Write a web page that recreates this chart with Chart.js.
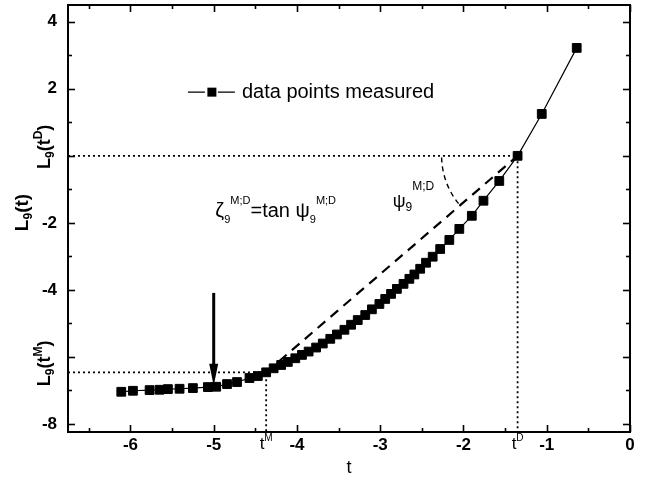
<!DOCTYPE html>
<html>
<head>
<meta charset="utf-8">
<script src="https://cdn.jsdelivr.net/npm/chart.js@4/dist/chart.umd.min.js"></script>
<style>
html,body{margin:0;padding:0;background:#fff;}
#c{display:block;}
</style>
</head>
<body>
<canvas id="c" width="650" height="482"></canvas>
<script>
// ---------------- DATA ----------------
const tValues = [-6.11,-5.97,-5.77,-5.65,-5.55,-5.41,-5.25,-5.07,-4.97,-4.84,-4.72,-4.57,-4.47,-4.37,
  -4.28,-4.19,-4.11,-4.02,-3.94,-3.86,-3.77,-3.69,-3.60,-3.52,-3.43,-3.35,-3.27,-3.18,-3.10,-3.01,
  -2.94,-2.87,-2.80,-2.72,-2.65,-2.59,-2.52,-2.45,-2.37,-2.28,-2.17,-2.05,-1.90,-1.76,-1.57,-1.35,-1.06,-0.64];
const lValues = [-7.04,-7.01,-6.99,-6.98,-6.96,-6.95,-6.93,-6.90,-6.89,-6.81,-6.75,-6.63,-6.57,-6.46,
  -6.34,-6.24,-6.15,-6.04,-5.94,-5.84,-5.72,-5.60,-5.46,-5.33,-5.19,-5.04,-4.90,-4.75,-4.58,-4.42,
  -4.27,-4.12,-3.97,-3.82,-3.67,-3.54,-3.37,-3.19,-3.01,-2.78,-2.51,-2.18,-1.79,-1.34,-0.75,0.00,1.25,3.22];
const tM = -4.37, LtM = -6.46;      // t^M and L9(t^M)
const tD = -1.35, LtD = 0.00;       // t^D and L9(t^D)
const arrowT = -5.0, arrowFromL = -4.09, arrowToL = -6.86;
const xMajorTicks = [-6,-5,-4,-3,-2,-1,0];
const xMinorTicks = [-6.5,-5.5,-4.5,-3.5,-2.5,-1.5,-0.5];
const yMajorTicks = [-8,-6,-4,-2,0,2,4];
const yMinorTicks = [-7,-5,-3,-1,1,3];
const yLabelledTicks = [-8,-4,-2,2,4];
const xMin = -6.75, xMax = 0, yMin = -8.24, yMax = 4.5;
const legendLabel = 'data points measured';

// ---------------- DRAWING ----------------
const FF = '"Liberation Sans", Arial, Helvetica, sans-serif';
function f(size, bold){ return (bold ? 'bold ' : '') + size + 'px ' + FF; }
function segsWidth(ctx, segs){ let w=0; for(const s of segs){ ctx.font=s.font; w+=ctx.measureText(s.t).width+(s.gap||0);} return w; }
function drawSegs(ctx, segs, x, y){ let cx=x; for(const s of segs){ ctx.font=s.font; ctx.fillText(s.t, cx, y+(s.dy||0)); cx+=ctx.measureText(s.t).width+(s.gap||0);} }

const points = tValues.map((t,i)=>({x:t, y:lValues[i]}));

const annot = {
  id:'annot',
  afterDatasetsDraw(chart){
    const {ctx, chartArea:a, scales:{x, y}} = chart;
    const X = v => x.getPixelForValue(v), Y = v => y.getPixelForValue(v);
    ctx.save();
    ctx.fillStyle = '#000'; ctx.strokeStyle = '#000';
    ctx.textAlign = 'left'; ctx.textBaseline = 'alphabetic';

    // arrow
    const ax = X(arrowT), ay0 = Y(arrowFromL), ay1 = Y(arrowToL);
    ctx.lineWidth = 3; ctx.setLineDash([]);
    ctx.beginPath(); ctx.moveTo(ax, ay0); ctx.lineTo(ax, ay1-14); ctx.stroke();
    ctx.beginPath(); ctx.moveTo(ax, ay1); ctx.lineTo(ax-4.5, ay1-22); ctx.lineTo(ax+4.5, ay1-22); ctx.closePath(); ctx.fill();

    // angle arc at t^D
    const cx = X(tD), cy = Y(LtD);
    const ang = Math.atan2(Y(LtM)-cy, X(tM)-cx);
    const r = 76;
    ctx.lineWidth = 1.4; ctx.setLineDash([5,4]);
    ctx.beginPath(); ctx.arc(cx, cy, r, ang+0.03, Math.PI, false); ctx.stroke();
    ctx.setLineDash([]);

    // legend
    const lx = X(-5.31), ly = Y(1.90);
    ctx.lineWidth = 1.2;
    ctx.beginPath(); ctx.moveTo(lx, ly); ctx.lineTo(lx+17, ly); ctx.moveTo(lx+30, ly); ctx.lineTo(lx+47, ly); ctx.stroke();
    ctx.fillRect(lx+19.5, ly-4.5, 9, 9);
    ctx.font = f(20,false); ctx.textBaseline='middle';
    ctx.fillText(legendLabel, lx+54, ly);
    ctx.textBaseline='alphabetic';

    // zeta formula
    drawSegs(ctx, [
      {t:'\u03B6', font:f(20,false)},
      {t:'9', font:f(11,false), dy:6},
      {t:'M;D', font:f(11,false), dy:-13},
      {t:'=tan \u03C8', font:f(20,false)},
      {t:'9', font:f(11,false), dy:6},
      {t:'M;D', font:f(11,false), dy:-13}
    ], X(-4.98), Y(-1.82));

    // psi label
    drawSegs(ctx, [
      {t:'\u03C8', font:f(18,false)},
      {t:'9', font:f(12,false), dy:4},
      {t:'M;D', font:f(12,false), dy:-17}
    ], X(-2.85), Y(-1.53));

    // x-axis special labels t^M, t^D
    const tSegs = s => [{t:'t', font:f(17,false)},{t:s, font:f(10,false), dy:-8}];
    for (const [v,s] of [[tM,'M'],[tD,'D']]) {
      const segs = tSegs(s); const w = segsWidth(ctx, segs);
      drawSegs(ctx, segs, X(v)-w/2, a.bottom+17);
    }
    // x title
    ctx.font = f(18,false); ctx.textAlign='center';
    ctx.fillText('t', (a.left+a.right)/2, a.bottom+41);
    ctx.textAlign='left';

    // rotated labels on y side
    function rot(segs, cyp, baseX){
      const w = segsWidth(ctx, segs);
      ctx.save(); ctx.translate(baseX, cyp); ctx.rotate(-Math.PI/2);
      drawSegs(ctx, segs, -w/2, 0); ctx.restore();
    }
    rot([{t:'L',font:f(19,true)},{t:'9',font:f(12,true),dy:4},{t:'(t)',font:f(19,true)}], (a.top+a.bottom)/2-6, 28);
    rot([{t:'L',font:f(18,true)},{t:'9',font:f(12,true),dy:4},{t:'(t',font:f(18,true)},{t:'D',font:f(12,true),dy:-8},{t:')',font:f(18,true)}], Y(LtD)-9, 50);
    rot([{t:'L',font:f(18,true)},{t:'9',font:f(12,true),dy:4},{t:'(t',font:f(18,true)},{t:'M',font:f(12,true),dy:-8},{t:')',font:f(18,true)}], Y(LtM)-9, 50);

    ctx.restore();
  },
  afterDraw(chart){
    const {ctx, chartArea:a, scales:{x, y}} = chart;
    ctx.save(); ctx.strokeStyle='#000'; ctx.setLineDash([]);
    ctx.lineWidth = 1.6;
    const seg=(x1,y1,x2,y2)=>{ctx.beginPath();ctx.moveTo(x1,y1);ctx.lineTo(x2,y2);ctx.stroke();};
    for (const v of xMajorTicks.concat(xMinorTicks)) {
      const len = xMajorTicks.includes(v) ? 7 : 4, px = Math.round(x.getPixelForValue(v))+0.5;
      seg(px, a.bottom, px, a.bottom-len); seg(px, a.top, px, a.top+len);
    }
    for (const v of yMajorTicks.concat(yMinorTicks)) {
      const len = yMajorTicks.includes(v) ? 7 : 4, py = Math.round(y.getPixelForValue(v))+0.5;
      seg(a.left, py, a.left+len, py); seg(a.right, py, a.right-len, py);
    }
    ctx.lineWidth = 2;
    ctx.strokeRect(a.left, a.top, a.right-a.left, a.bottom-a.top);
    ctx.restore();
  }
};

new Chart(document.getElementById('c'), {
  type:'scatter',
  data:{datasets:[
    {label:legendLabel, data:points, showLine:true, borderColor:'#000', borderWidth:1.2,
     pointStyle:'rect', pointRadius:6.2, pointBackgroundColor:'#000', pointBorderColor:'#000', pointBorderWidth:1, tension:0},
    {data:[{x:tM,y:LtM},{x:tD,y:LtD}], showLine:true, borderColor:'#000', borderWidth:2.2, borderDash:[10,7], pointRadius:0},
    {data:[{x:xMin,y:LtD},{x:tD,y:LtD},{x:tD,y:yMin}], showLine:true, borderColor:'#000', borderWidth:1.8, borderDash:[2,3], pointRadius:0},
    {data:[{x:xMin,y:LtM},{x:tM,y:LtM},{x:tM,y:yMin}], showLine:true, borderColor:'#000', borderWidth:1.8, borderDash:[2,3], pointRadius:0}
  ]},
  options:{
    responsive:false, animation:false, devicePixelRatio:1,
    layout:{autoPadding:false, padding:{top:5, right:20, left:0, bottom:0}},
    plugins:{legend:{display:false}, tooltip:{enabled:false}},
    scales:{
      x:{type:'linear', min:xMin, max:xMax,
        afterBuildTicks:s=>{ s.ticks = xMajorTicks.map(v=>({value:v})); },
        afterFit:s=>{ s.height = 50; s.paddingLeft = 0; s.paddingRight = 0; s.paddingTop = 0; s.paddingBottom = 0; },
        grid:{display:false, drawTicks:false}, border:{display:false},
        ticks:{autoSkip:false, maxRotation:0, padding:3, color:'#000', font:{family:FF, size:17, weight:'bold'},
          callback:v=>String(v)}
      },
      y:{type:'linear', min:yMin, max:yMax,
        afterBuildTicks:s=>{ s.ticks = yLabelledTicks.map(v=>({value:v})); },
        afterFit:s=>{ s.width = 68; s.paddingLeft = 0; s.paddingRight = 0; s.paddingTop = 0; s.paddingBottom = 0; },
        grid:{display:false, drawTicks:false}, border:{display:false},
        ticks:{autoSkip:false, padding:11, color:'#000', font:{family:FF, size:17, weight:'bold'},
          callback:v=>String(v)}
      }
    }
  },
  plugins:[annot]
});
</script>
</body>
</html>
